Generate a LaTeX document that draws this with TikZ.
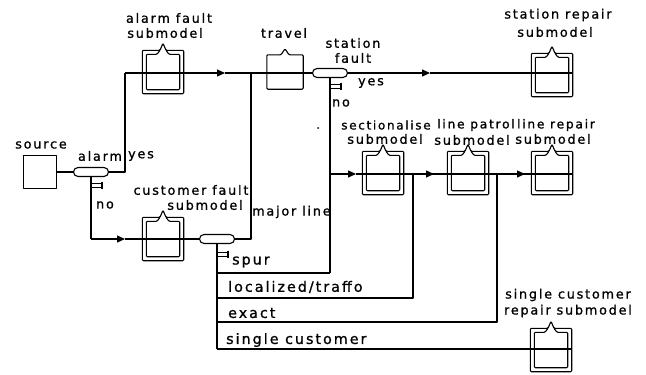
\documentclass[tikz,border=0pt]{standalone}
\usepackage{fontspec}
\setmainfont{DejaVu Sans}
\newfontfamily\lblfont{DejaVu Sans}[LetterSpace=14,FakeBold=1]
\usetikzlibrary{arrows.meta,calc}
\tikzset{
 ln/.style={line width=1.1pt, line join=round},
 dbx/.style={minimum width=41pt, minimum height=43pt, inner sep=0pt},
 sbx/.style={minimum width=36pt, minimum height=34pt, inner sep=0pt},
 ov/.style={draw, ln, rounded corners=4.5pt, minimum width=35pt, minimum height=9pt, inner sep=0pt},
 nlab/.style={font={\lblfont\fontsize{12.8}{14}\selectfont}, inner sep=0pt},
 blab/.style={font={\lblfont\fontsize{14.3}{15}\selectfont}, inner sep=0pt, anchor=west},
 arw/.style={ln,-{Triangle[length=8pt,width=7pt]}},
 pics/exitm/.style={code={
   \draw[line width=1pt] (0,-2)--(11,-2) (0,2)--(11,2);
   \draw[line width=1.8pt] (11,-3.5)--(11,3.5);}},
}
\newcommand\dboxdraw[1]{%
 \draw[ln,rounded corners=1pt] ([xshift=-3pt]#1.north) -- (#1.north west) -- (#1.south west) -- (#1.south east) -- (#1.north east) -- ([xshift=3pt]#1.north) -- ([yshift=7pt]#1.north) -- cycle;
 \draw[ln,rounded corners=1pt] ([xshift=-3pt]#1.north) -- ([xshift=-6pt,yshift=-4pt]#1.north) -- ([xshift=4pt,yshift=-4pt]#1.north west) -- ([xshift=4pt,yshift=4pt]#1.south west) -- ([xshift=-4pt,yshift=4pt]#1.south east) -- ([xshift=-4pt,yshift=-4pt]#1.north east) -- ([xshift=6pt,yshift=-4pt]#1.north) -- ([xshift=3pt]#1.north);
}
\begin{document}
\begin{tikzpicture}[x=1pt,y=-1pt]
\fill[white] (0,0) rectangle (646,375);
\useasboundingbox (0,0) rectangle (646,375);

% nodes
\node[draw,ln,minimum size=33pt,inner sep=0pt] (src) at (40,172) {};
\node[ov] (al) at (91,172) {};
\node[dbx] (alarmf) at (163,72) {};
\node[sbx] (travel) at (285,72) {};
\node[ov] (sf) at (330,73) {};
\node[dbx] (srep) at (552,75) {};
\node[dbx] (cf) at (163,239) {};
\node[ov] (co) at (217,239) {};
\node[dbx] (sec) at (383,173) {};
\node[dbx] (lp) at (468,173) {};
\node[dbx] (lr) at (552,173) {};
\node[dbx] (scr) at (551,350) {};

% coordinates
\coordinate (ay) at (125,172);
\coordinate (at) at (125,73);
\coordinate (ta) at (225,73);
\coordinate (an) at (91,239);
\coordinate (na) at (125,239);
\coordinate (mj) at (251,239);
\coordinate (mt) at (251,73);
\coordinate (ya) at (430,74);
\coordinate (sn) at (330,273);
\coordinate (s2) at (330,174);
\coordinate (r1) at (356,174);
\coordinate (r2) at (434,174);
\coordinate (r3) at (525,174);
\coordinate (b1) at (217,273);
\coordinate (b2) at (217,298);
\coordinate (b3) at (217,322);
\coordinate (b4) at (217,349);
\coordinate (l2) at (413,298);
\coordinate (l2t) at (413,174);
\coordinate (e3) at (497,322);
\coordinate (e3t) at (497,174);

% connectors
\draw[ln] (src.east) -- (al.west);
\draw[ln] (al.east) -- (ay) -- (at);
\draw[arw] (at) -- (ta);
\draw[ln] (ta) -- (sf.west);
\draw[ln] (co.east) -- (mj) -- (mt);
\draw[arw] (sf.east) -- (ya |- sf.east);
\draw[ln] (ya |- sf.east) -- (srep.east |- sf.east);
\draw[ln] (sf.south) -- (sn);
\draw[ln] (co.south) -- (b4);
\draw[ln] (b1) -- (sn);
\draw[ln] (b2) -- (l2) -- (l2t);
\draw[ln] (b3) -- (e3) -- (e3t);
\draw[ln] (b4) -- (scr.east |- b4);
\draw[arw] (s2) -- (r1);
\draw[ln] (r1) -- (r2);
\draw[arw] (l2t) -- (r2);
\draw[ln] (r2) -- (r3);
\draw[arw] (e3t) -- (r3);
\draw[ln] (r3) -- (lr.east |- r3);
\draw[ln] (al.south) -- (an);
\draw[arw] (an) -- (na);
\draw[ln] (na) -- (co.west);

% boxes
\dboxdraw{alarmf}
\dboxdraw{srep}
\dboxdraw{cf}
\dboxdraw{sec}
\dboxdraw{lp}
\dboxdraw{lr}
\dboxdraw{scr}
\draw[ln,rounded corners=1pt] (travel.north west) -- ([xshift=-4pt]travel.north) -- ([yshift=6pt]travel.north) -- ([xshift=4pt]travel.north) -- (travel.north east) -- (travel.south east) -- (travel.south west) -- cycle;

% exit marks
\pic at (91,185) {exitm};
\pic at (330,86) {exitm};
\pic at (217,254) {exitm};

\fill (318,128) circle (1pt);

% labels
\node[nlab] (t1) at (41,145) {source};
\node[nlab] (t2) at (100,156) {alarm};
\node[nlab] (t3) at (141,156) {yes};
\node[nlab] (t4) at (105,205) {no};
\node[nlab] (t5) at (169,18) {alarm fault};
\node[nlab] (t6) at (165,33) {submodel};
\node[nlab] (t7) at (284,33) {travel};
\node[nlab] (t8) at (353,43) {station};
\node[nlab] (t9) at (353,58) {fault};
\node[nlab] (t10) at (371,83) {yes};
\node[nlab] (t11) at (341,103) {no};
\node[nlab] (t12) at (558,15) {station repair};
\node[nlab] (t13) at (555,32) {submodel};
\node[nlab] (t14) at (191,190) {customer fault};
\node[nlab] (t15) at (205,205) {submodel};
\node[nlab,anchor=west] (t16) at (252,212) {major line};
\node[nlab,font={\lblfont\fontsize{12}{13}\selectfont}] (t17) at (386,125) {sectionalise};
\node[nlab] (t18) at (385,139) {submodel};
\node[nlab,font={\lblfont\fontsize{12.3}{13}\selectfont}] (t19) at (476,125) {line patrol};
\node[nlab] (t20) at (472,140) {submodel};
\node[nlab,font={\lblfont\fontsize{12.3}{13}\selectfont}] (t21) at (556,125) {line repair};
\node[nlab] (t22) at (553,139) {submodel};
\node[nlab] (t23) at (568,295) {single customer};
\node[nlab] (t24) at (568,311) {repair submodel};
\node[blab] (t25) at (232,262) {spur};
\node[blab] (t26) at (228,287) {localized/traffo};
\node[blab] (t27) at (228,313) {exact};
\node[blab] (t28) at (226,340) {single customer};
\end{tikzpicture}
\end{document}
